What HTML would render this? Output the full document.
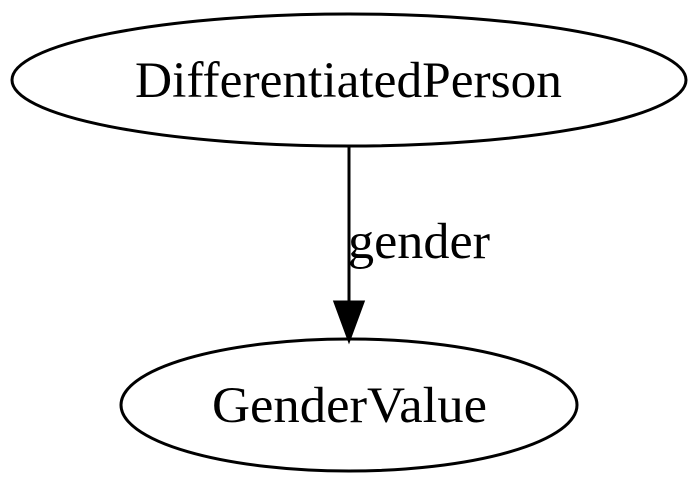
<!DOCTYPE html>
<html><head><style>html,body{margin:0;padding:0;background:#fff;}</style></head>
<body>
<svg width="700" height="487" viewBox="0 0 700 487" xmlns="http://www.w3.org/2000/svg">
<rect width="700" height="487" fill="#fff"/>
<ellipse cx="349" cy="80" rx="337" ry="66" fill="none" stroke="#000" stroke-width="3"/>
<text x="135" y="97" textLength="427" lengthAdjust="spacingAndGlyphs" font-family="Liberation Serif, serif" font-size="51">DifferentiatedPerson</text>
<ellipse cx="349" cy="405" rx="228" ry="66" fill="none" stroke="#000" stroke-width="3"/>
<text x="212" y="422" textLength="275" lengthAdjust="spacingAndGlyphs" font-family="Liberation Serif, serif" font-size="51">GenderValue</text>
<line x1="349" y1="146" x2="349" y2="302" stroke="#000" stroke-width="3"/>
<polygon points="335,302 363,302 349,340" fill="#000" stroke="#000" stroke-width="3"/>
<text x="348" y="258" textLength="142" lengthAdjust="spacingAndGlyphs" font-family="Liberation Serif, serif" font-size="51">gender</text>
</svg>
</body></html>
